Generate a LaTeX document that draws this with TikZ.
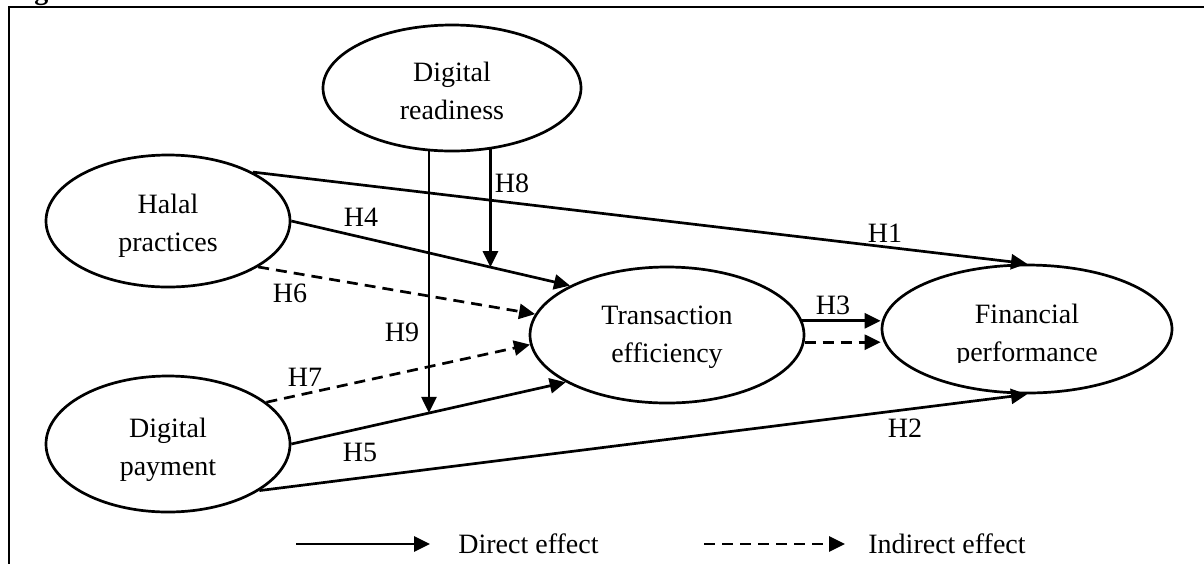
\documentclass[tikz,border=0pt]{standalone}
\usepackage{fontspec}
\setmainfont{Liberation Serif}
\usetikzlibrary{arrows.meta,shapes.geometric}
\begin{document}
\begin{tikzpicture}[x=0.5pt,y=-0.5pt,
  every node/.style={font=\fontsize{14}{19}\selectfont},
  construct/.style={draw, ellipse, line width=1.35pt, inner sep=0pt},
  ctext/.style={align=center, inner sep=0pt},
  link/.style={line width=1.35pt, -{Triangle[length=8pt,width=7.5pt]}},
  indirect/.style={link, dash pattern=on 5.5pt off 3.5pt},
  hyp/.style={inner sep=0pt},
  frame/.style={line width=0.9pt}
]
\useasboundingbox (0,0) rectangle (1204,564);

% caption above the frame (only its descender falls inside the page)
\node[anchor=base west, inner sep=0pt, font=\bfseries\fontsize{14}{19}\selectfont] (figcap) at (9,-1) {Figure 1.};

% frame
\draw[frame] (1204,7) -- (9,7) -- (9,564);

% constructs
\node[construct, minimum width=129pt, minimum height=63pt] (dr) at (452,88) {};
\node[construct, minimum width=122pt, minimum height=66pt] (hp) at (168,221) {};
\node[construct, minimum width=122pt, minimum height=68pt] (dp) at (168,444) {};
\node[construct, minimum width=137pt, minimum height=68pt] (te) at (667,335) {};
\node[construct, minimum width=145pt, minimum height=64pt] (fp) at (1027,329) {};

\node[ctext] (drt) at (452,91.4) {Digital\\readiness};
\node[ctext] (hpt) at (168,225.5) {Halal\\practices};
\node[ctext] (dpt) at (168,449.5) {Digital\\payment};
\node[ctext] (tet) at (667,337.5) {Transaction\\efficiency};
\begin{scope}
  \clip (882,250) rectangle (1173,362);
  \node[ctext] (fpt) at (1027,335.5) {Financial\\performance};
\end{scope}

% paths
\draw[link] (hp.30) -- (fp.north);
\draw[link] (hp.0) -- coordinate[pos=0.716] (m8) (te.153.2);
\draw[indirect] (hp.-27.3) -- (te.171.8);
\draw[link] (dp.0) -- coordinate[pos=0.504] (m9) (te.205.4);
\draw[indirect] (dp.23.7) -- (te.-176.7);
\draw[link] (dp.-27.3) -- (fp.south);
\draw[link] (dr.-58.5) -- (dr.-58.5 |- m8);
\draw[link] (dr.250.5) -- (dr.250.5 |- m9);
\draw[link] (te.6) -- (te.6 -| fp.west);
\draw[indirect] (te.-3) -- (te.-3 -| fp.west);

% hypothesis labels
\node[hyp] (h1) at (885,233) {H1};
\node[hyp] (h2) at (905,428) {H2};
\node[hyp] (h3) at (833,305) {H3};
\node[hyp] (h4) at (361,217) {H4};
\node[hyp] (h5) at (360,452) {H5};
\node[hyp] (h6) at (290,293) {H6};
\node[hyp] (h7) at (305,377) {H7};
\node[hyp] (h8) at (512,183) {H8};
\node[hyp] (h9) at (402,332) {H9};

% legend
\coordinate (ls1) at (296,544);
\coordinate (le1) at (430,544);
\coordinate (ls2) at (704,544);
\coordinate (le2) at (845,544);
\draw[link] (ls1) -- (le1);
\node[anchor=west, inner sep=0pt] (lt1) at (458,544) {Direct effect};
\draw[indirect] (ls2) -- (le2);
\node[anchor=west, inner sep=0pt] (lt2) at (868,544) {Indirect effect};
\end{tikzpicture}
\end{document}
